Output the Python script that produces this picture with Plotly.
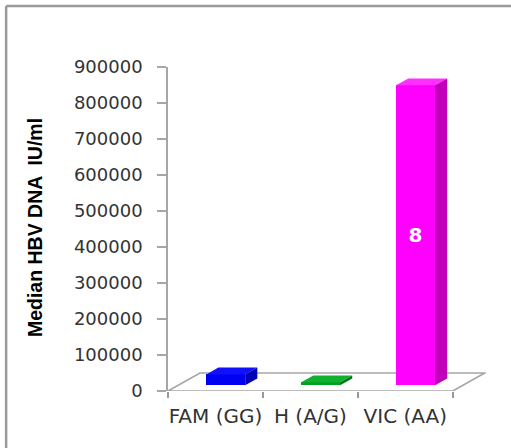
import plotly.graph_objects as go

# Data
categories = ["FAM (GG)", "H (A/G)", "VIC (AA)"]
median_dna = [30000, 8000, 833000]          # median HBV DNA, IU/ml
bar_labels = ["", "", "8"]
front_colors = ["#0000F2", "#00A020", "#FF00FF"]
top_colors = ["#1010FF", "#10B030", "#FF30FF"]
side_colors = ["#0000B4", "#007818", "#C000B8"]
y_ticks = list(range(0, 900001, 100000))

# Pseudo-3D geometry (depth expressed in axis units)
DEPTH_X = 0.337       # full floor depth along x (category units)
DEPTH_Y = 50000       # full floor depth along y (value units)
D_FRONT = 0.32        # depth fraction of the bar front face
D_BACK = 0.70         # depth fraction of the bar back face
BAR_W = 0.41

fig = go.Figure()

xs = list(range(len(categories)))
fx = [x + D_FRONT * DEPTH_X for x in xs]
base = D_FRONT * DEPTH_Y

fig.add_trace(go.Bar(
    x=fx, y=median_dna, base=base, width=BAR_W,
    marker=dict(color=front_colors, line=dict(width=0)),
    text=bar_labels, textposition="inside", insidetextanchor="middle",
    textfont=dict(color="white", size=20, family="DejaVu Sans", weight="bold"),
    textangle=0, constraintext="none", hoverinfo="skip", showlegend=False,
))

shapes = []

# Floor parallelogram
x0, x1 = -0.5, len(categories) - 0.5
floor_path = (f"M {x0},0 L {x1},0 L {x1 + DEPTH_X},{DEPTH_Y} "
              f"L {x0 + DEPTH_X},{DEPTH_Y} Z")
shapes.append(dict(type="path", xref="x", yref="y", path=floor_path,
                   line=dict(color="#A6A6A6", width=1.6), fillcolor="white",
                   layer="below"))

# Top and side faces for each bar
ddx = (D_BACK - D_FRONT) * DEPTH_X
ddy = (D_BACK - D_FRONT) * DEPTH_Y
for cx, v, tc, sc in zip(fx, median_dna, top_colors, side_colors):
    l, r = cx - BAR_W / 2, cx + BAR_W / 2
    top = base + v
    shapes.append(dict(
        type="path", xref="x", yref="y", layer="above",
        path=f"M {l},{top} L {r},{top} L {r + ddx},{top + ddy} L {l + ddx},{top + ddy} Z",
        fillcolor=tc, line=dict(width=0)))
    shapes.append(dict(
        type="path", xref="x", yref="y", layer="above",
        path=f"M {r},{base} L {r},{top} L {r + ddx},{top + ddy} L {r + ddx},{base + ddy} Z",
        fillcolor=sc, line=dict(width=0)))

# Outer chart frame: top and left edges
frame = dict(color="#9A9A9A", width=2.5)
shapes.append(dict(type="line", xref="paper", yref="paper",
                   x0=-0.509, x1=1.2, y0=1.188, y1=1.188, line=frame, layer="below"))
shapes.append(dict(type="line", xref="paper", yref="paper",
                   x0=-0.509, x1=-0.509, y0=1.188, y1=-0.3, line=frame, layer="below"))

fig.update_layout(
    width=511, height=448,
    margin=dict(l=168, r=25, t=67, b=57),
    paper_bgcolor="white", plot_bgcolor="white",
    shapes=shapes, bargap=0, barmode="overlay",
    font=dict(family="DejaVu Sans", color="#333333"),
    xaxis=dict(
        range=[-0.5, 2.85], tickmode="array", tickvals=xs, ticktext=categories,
        showline=False, showgrid=False, zeroline=False, ticks="",
        tickfont=dict(size=20, family="DejaVu Sans", color="#333333"),
        ticklabelstandoff=11,
        minor=dict(tickmode="array", tickvals=[-0.5, 0.5, 1.5, 2.5], ticks="outside",
                   ticklen=6, tickwidth=1.5, tickcolor="#9A9A9A", showgrid=False),
    ),
    yaxis=dict(
        range=[0, 900000], tickmode="array", tickvals=y_ticks,
        ticktext=[str(t) for t in y_ticks],
        showline=True, linecolor="#A6A6A6", linewidth=1.6,
        ticks="outside", ticklen=9, tickwidth=1.5, tickcolor="#A6A6A6",
        showgrid=False, zeroline=False,
        tickfont=dict(size=18, family="DejaVu Sans", color="#333333"),
        ticklabelstandoff=11,
    ),
    annotations=[dict(
        text="<b>Median HBV DNA  IU/ml</b>", textangle=-90,
        xref="paper", yref="paper", x=-0.418, y=0.503,
        xanchor="center", yanchor="middle", showarrow=False,
        font=dict(size=19.5, family="Liberation Sans", color="black"),
    )],
)

fig.write_html("out.html")
